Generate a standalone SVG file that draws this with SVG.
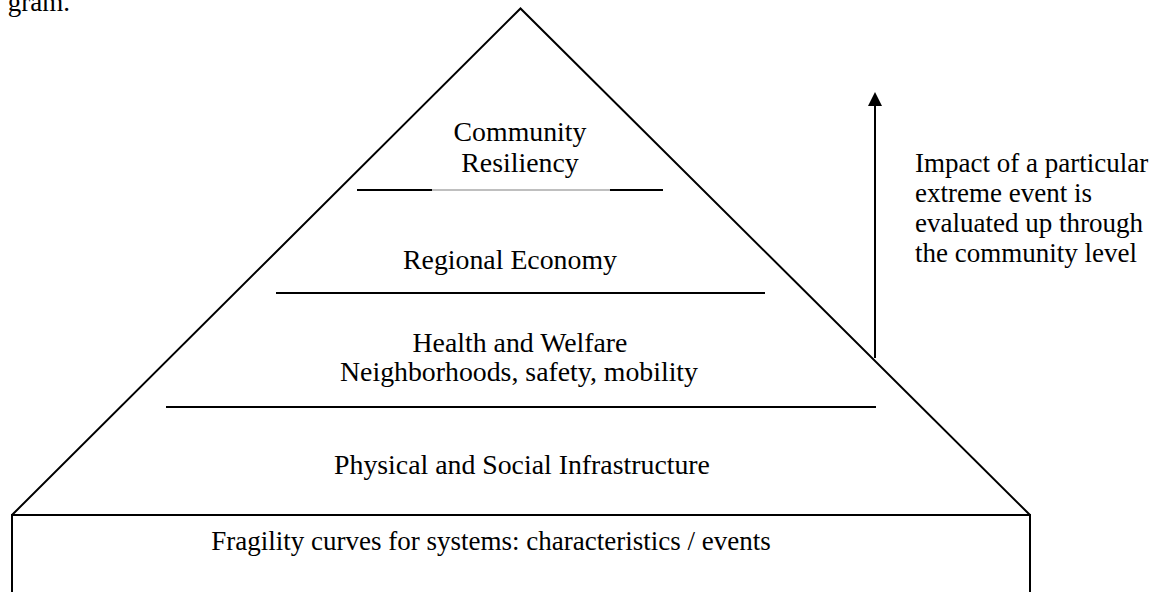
<svg xmlns="http://www.w3.org/2000/svg" width="1165" height="592" viewBox="0 0 1165 592">
<defs>
<style>
text{font-family:"Liberation Serif","Times New Roman",serif;font-size:27px;fill:#000}
.c{text-anchor:middle}
.p{font-size:27.8px}
.ln{stroke:#000;stroke-width:2;fill:none}
</style>
</defs>
<rect width="1165" height="592" fill="#fff"/>
<text x="70" y="11" style="text-anchor:end">gram.</text>
<g id="pyramid">
<polyline class="ln" points="12,515 520.5,8.5 1030,515"/>
</g>
<g id="base">
<polyline class="ln" points="12,592 12,515 1030,515 1030,592"/>
<text class="c" x="491" y="550">Fragility curves for systems: characteristics / events</text>
</g>
<g id="community">
<text class="c p" x="520" y="141">Community</text>
<text class="c p" x="520" y="172">Resiliency</text>
<line class="ln" x1="357" y1="190" x2="432" y2="190"/>
<line x1="432" y1="190" x2="610" y2="190" stroke="#aaa" stroke-width="1.5"/>
<line class="ln" x1="610" y1="190" x2="663" y2="190"/>
</g>
<g id="regional">
<text class="c p" x="510" y="269">Regional Economy</text>
<line class="ln" x1="276" y1="293" x2="765" y2="293"/>
</g>
<g id="health">
<text class="c p" x="520" y="352">Health and Welfare</text>
<text class="c p" x="519" y="381">Neighborhoods, safety, mobility</text>
<line class="ln" x1="166" y1="407" x2="876" y2="407"/>
</g>
<g id="infra">
<text class="c p" x="522" y="474">Physical and Social Infrastructure</text>
</g>
<g id="connectors">
<line class="ln" x1="875" y1="358" x2="875" y2="104"/>
<polygon points="875,92 868,106 882,106" fill="#000"/>
</g>
<g id="note">
<text x="915" y="172">Impact of a particular</text>
<text x="915" y="202">extreme event is</text>
<text x="915" y="232">evaluated up through</text>
<text x="915" y="262">the community level</text>
</g>
</svg>
